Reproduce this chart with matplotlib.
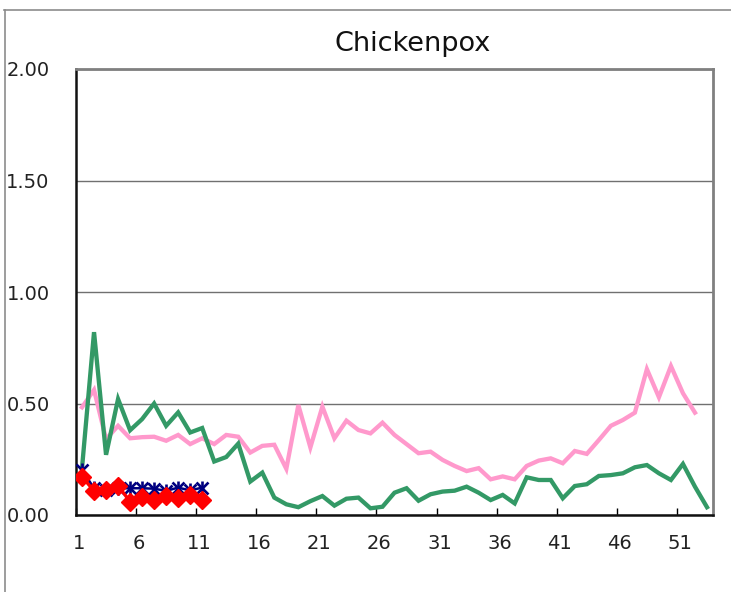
"""Chickenpox weekly rates: current season vs. historic series."""

import matplotlib
matplotlib.use("Agg")
import matplotlib.pyplot as plt
from matplotlib.lines import Line2D
from matplotlib.transforms import ScaledTranslation
import numpy as np

# ── data ────────────────────────────────────────────────────────────────────
weeks = np.arange(1, 54)

green_rate = [0.21, 0.82, 0.27, 0.52, 0.38, 0.43, 0.50, 0.40, 0.46, 0.37,
              0.39, 0.24, 0.26, 0.32, 0.15, 0.19, 0.078, 0.048, 0.035, 0.062,
              0.085, 0.042, 0.073, 0.078, 0.030, 0.037, 0.10, 0.12, 0.064, 0.093,
              0.105, 0.109, 0.127, 0.10, 0.067, 0.09, 0.052, 0.169, 0.157, 0.157,
              0.075, 0.13, 0.138, 0.175, 0.179, 0.187, 0.214, 0.224, 0.187, 0.157,
              0.229, 0.127, 0.035]

pink_rate = [0.483, 0.561, 0.34, 0.40, 0.344, 0.349, 0.351, 0.333, 0.359, 0.318,
             0.344, 0.318, 0.359, 0.351, 0.28, 0.31, 0.315, 0.207, 0.493, 0.303,
             0.486, 0.344, 0.423, 0.381, 0.366, 0.414, 0.359, 0.318, 0.277, 0.284,
             0.247, 0.22, 0.197, 0.21, 0.16, 0.173, 0.16, 0.22, 0.244, 0.254,
             0.232, 0.287, 0.274, 0.336, 0.40, 0.426, 0.459, 0.654, 0.528, 0.668,
             0.546, 0.459]

blue_rate = [0.202, 0.12, 0.112, 0.12, 0.12, 0.12, 0.118, 0.108, 0.123, 0.11, 0.123]

red_rate = [0.172, 0.108, 0.112, 0.131, 0.06, 0.082, 0.067, 0.087, 0.078, 0.09, 0.067]

y_ticks = [0.0, 0.5, 1.0, 1.5, 2.0]
x_tick_labels = ["1", "6", "11", "16", "21", "26", "31", "36", "41", "46", "51"]

W, H = 731, 592
fig = plt.figure(figsize=(W / 100, H / 100), dpi=100)
ax = fig.add_axes([76 / W, (H - 515) / H, (713 - 76) / W, (515 - 69) / H])

ax.plot(weeks[:len(pink_rate)], pink_rate, color="#FF99CC", lw=3.1,
        solid_joinstyle="miter", zorder=3)
ax.plot(weeks, green_rate, color="#339966", lw=3.1,
        solid_joinstyle="miter", zorder=4)

bw = weeks[:len(blue_rate)]
ax.plot(bw, blue_rate, color="#000080", lw=1.8, zorder=5)
ax.plot(bw, blue_rate, ls="none", marker="x", ms=8.5, mew=1.9,
        color="#000080", zorder=5)
ax.plot(bw, blue_rate, ls="none", marker="|", ms=10, mew=1.9,
        color="#000080", zorder=5)

ax.plot(weeks[:len(red_rate)], red_rate, color="#FF0000", lw=2.4,
        marker="D", ms=9, mec="#FF0000", mfc="#FF0000", zorder=6)

# ── axes styling ────────────────────────────────────────────────────────────
ax.set_xlim(0.5, 53.5)
ax.set_ylim(0, 2.0)
ax.set_yticks(y_ticks)
ax.set_yticklabels([f"{v:.2f}" for v in y_ticks])
ax.set_xticks(np.arange(0.5, 51, 5))
ax.set_xticklabels(x_tick_labels)

ax.grid(axis="y", color="#707070", lw=1.0)
ax.set_axisbelow(True)

ax.tick_params(axis="y", length=0, pad=19, labelsize=14, labelcolor="#222222")
ax.tick_params(axis="x", direction="in", length=5, width=1, pad=14,
               labelsize=14, labelcolor="#222222")
shift = ScaledTranslation(3 / 100, 0, fig.dpi_scale_trans)
for lbl in ax.get_xticklabels():
    lbl.set_transform(lbl.get_transform() + shift)

for side in ("left", "bottom"):
    ax.spines[side].set_color("#111111")
    ax.spines[side].set_linewidth(1.8)
for side in ("top", "right"):
    ax.spines[side].set_color("#808080")
    ax.spines[side].set_linewidth(2.0)

fig.text(413 / W, 1 - 44 / H, "Chickenpox", ha="center", va="center",
         fontsize=19.5, color="#111111")

# outer chart-area border (top and left edges only are visible)
fig.add_artist(Line2D([4 / W, 1], [1 - 10 / H, 1 - 10 / H],
                      transform=fig.transFigure, color="#8c8c8c", lw=1.2))
fig.add_artist(Line2D([5 / W, 5 / W], [0, 1 - 10 / H],
                      transform=fig.transFigure, color="#8c8c8c", lw=1.2))

fig.savefig("out.png", dpi=100)
